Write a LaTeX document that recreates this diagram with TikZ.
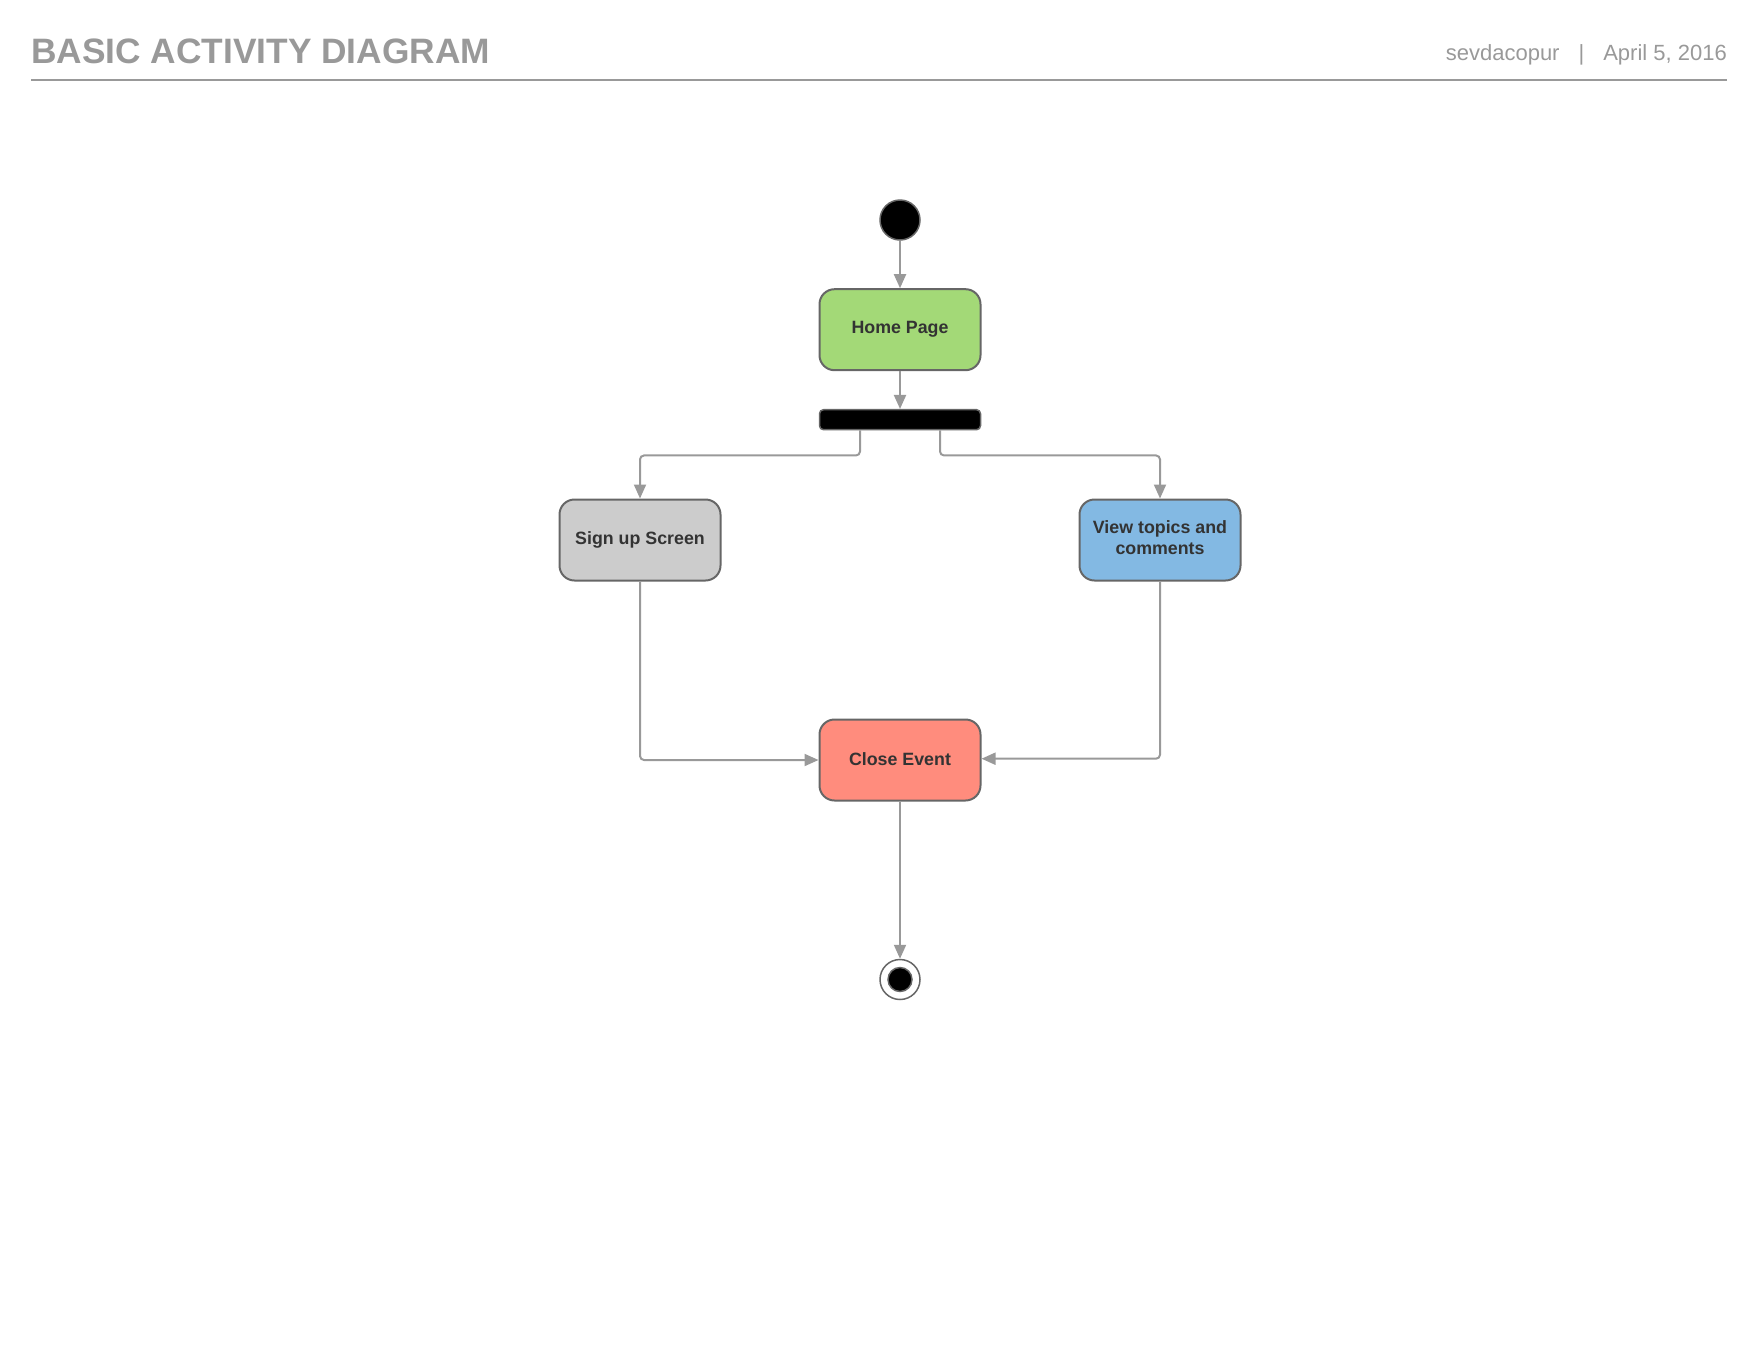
\documentclass[tikz,border=0pt]{standalone}
\usepackage{fontspec}
\setmainfont{Liberation Sans}
\usetikzlibrary{arrows.meta}

\definecolor{hdrgray}{HTML}{999999}
\definecolor{boxline}{HTML}{666666}
\definecolor{txtdark}{HTML}{333333}
\definecolor{homegreen}{HTML}{A3D977}
\definecolor{signgray}{HTML}{CCCCCC}
\definecolor{viewblue}{HTML}{83B9E3}
\definecolor{closered}{HTML}{FF8C7D}

\tikzset{
  activity/.style={draw=boxline, line width=2pt, rounded corners=15pt,
    minimum width=161pt, minimum height=81pt, inner sep=0pt, align=center,
    text=txtdark, font=\fontsize{17.8}{21}\selectfont\bfseries},
  flow/.style={draw=hdrgray, line width=2pt, rounded corners=4pt,
    -{Triangle[length=14pt,width=12pt]}},
}

\begin{document}
\begin{tikzpicture}[x=1pt,y=-1pt]
\useasboundingbox (0,0) rectangle (1760,1360);
%\draw[step=100,gray,very thin] (0,0) grid (1760,1360); %background grid

% header
\node[anchor=base west,inner sep=0pt,text=hdrgray,font=\fontsize{35.3}{40}\selectfont\bfseries] (title) at (31,63.3) {BASIC ACTIVITY DIAGRAM};
\node[anchor=base east,inner sep=0pt,text=hdrgray,font=\fontsize{22}{26}\selectfont] (byline) at (1727,60.7) {sevdacopur\hspace{19pt}|\hspace{19pt}April 5, 2016};
\draw[hdrgray,line width=2pt] (31,80) -- (1727,80);

% start, fork and end
\node[circle,draw=boxline,fill=black,line width=1.5pt,minimum size=40pt,inner sep=0pt] (start) at (900,220) {};
\node[draw=boxline,fill=black,line width=1.5pt,rounded corners=4pt,minimum width=161pt,minimum height=20pt,inner sep=0pt] (fork) at (900,419.7) {};
\node[circle,draw=boxline,fill=white,line width=1.5pt,minimum size=40pt,inner sep=0pt] (finish) at (900,979.5) {};
\node[circle,draw=boxline,fill=black,line width=1.5pt,minimum size=24pt,inner sep=0pt] (finishdot) at (finish.center) {};

% activities
\node[activity,fill=homegreen] (home)  at (900,329.7) {\raisebox{2pt}{Home Page}};
\node[activity,fill=signgray]  (sign)  at (640,540)   {\raisebox{2pt}{Sign up Screen}};
\node[activity,fill=viewblue]  (view)  at (1160,540)  {\raisebox{2.5pt}{\begin{tabular}{@{}c@{}}View topics and\\comments\end{tabular}}};
\node[activity,fill=closered]  (close) at (900,760)   {\raisebox{2pt}{Close Event}};

% flows
\draw[flow] (start) -- (home);
\draw[flow] (home) -- (fork);
\draw[flow] ([xshift=-40pt]fork.south) -- ++(0,25) -| (sign);
\draw[flow] ([xshift=40pt]fork.south) -- ++(0,25) -| (view);
\draw[flow] (sign) |- (close);
\draw[flow] (view) |- ([yshift=1.3pt]close.east);
\draw[flow] (close) -- (finish);
\end{tikzpicture}
\end{document}
